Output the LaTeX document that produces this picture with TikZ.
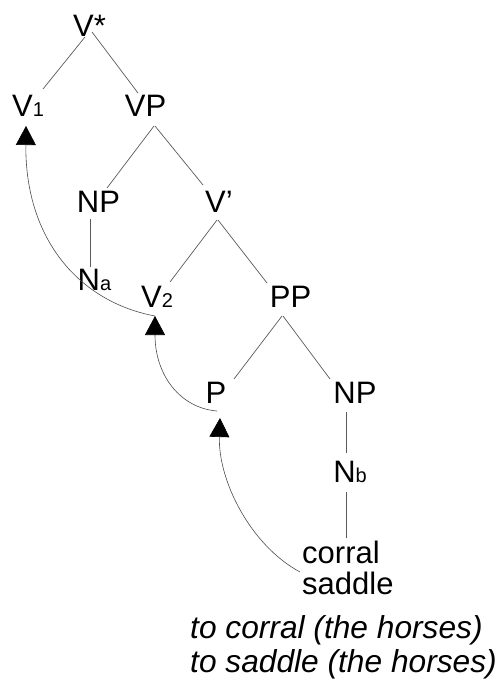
\documentclass[tikz,border=0pt]{standalone}
\usepackage{fontspec}
\setmainfont{Liberation Sans}
\usetikzlibrary{arrows.meta}
\newcommand{\sbs}[1]{{\fontsize{20}{20}\selectfont #1}}
\begin{document}
\begin{tikzpicture}[x=1pt,y=-1pt,
  lab/.style={inner sep=0pt, anchor=base, font=\fontsize{31}{36}\selectfont},
  word/.style={inner sep=0pt, anchor=base west, font=\fontsize{31}{36}\selectfont},
  ital/.style={inner sep=0pt, anchor=base west, font=\fontsize{31.7}{36}\selectfont\itshape},
  edge/.style={draw=black!65, line width=0.7pt},
  mv/.style={draw=black!70, line width=0.6pt, -{Triangle[length=19pt,width=20pt,color=black]}}]
\useasboundingbox (0,0) rectangle (499,679);

% tree labels
\node[lab] (Vstar) at (89.5,37) {V*};
\node[lab] (V1) at (28,117) {V\sbs{1}};
\node[lab] (VP) at (145.5,117) {VP};
\node[lab] (NPa) at (98.5,212) {NP};
\node[lab] (Vbar) at (219,212) {V’};
\node[lab] (Na) at (94.5,290) {N\sbs{a}};
\node[lab] (V2) at (157,307) {V\sbs{2}};
\node[lab] (PP) at (290.5,307) {PP};
\node[lab] (P) at (216,403) {P};
\node[lab] (NPb) at (355,403) {NP};
\node[lab] (Nb) at (350,482) {N\sbs{b}};
\node[word] (corral) at (302,563) {corral};
\node[word] (saddle) at (302,594) {saddle};
\node[ital] (gloss1) at (190,638) {to corral (the horses)};
\node[ital] (gloss2) at (190,672) {to saddle (the horses)};

% tree edges
\draw[edge] ([shift={(-4.5,0)}]Vstar.base) -- ([shift={(15,-28)}]V1.base);
\draw[edge] ([shift={(2.5,-5)}]Vstar.base) -- ([shift={(-7.5,-24)}]VP.base);
\draw[edge] ([shift={(8.5,9)}]VP.base) -- ([shift={(8.5,-24)}]NPa.base);
\draw[edge] ([shift={(9.5,9)}]VP.base) -- ([shift={(-16,-27)}]Vbar.base);
\draw[edge] ([shift={(-8.5,7)}]NPa.base) -- ([shift={(-4.5,-23)}]Na.base);
\draw[edge] ([shift={(-2,8)}]Vbar.base) -- ([shift={(13,-25)}]V2.base);
\draw[edge] ([shift={(-1,8)}]Vbar.base) -- ([shift={(-23.5,-24)}]PP.base);
\draw[edge] ([shift={(-8.5,9)}]PP.base) -- ([shift={(18,-24)}]P.base);
\draw[edge] ([shift={(-7.5,9)}]PP.base) -- ([shift={(-25,-24)}]NPb.base);
\draw[edge] ([shift={(-9,9)}]NPb.base) -- ([shift={(-4,-29)}]Nb.base);
\draw[edge] ([shift={(-4,10)}]Nb.base) -- ([shift={(44,-25)}]corral.base west);

% movement arrows
\coordinate (v1tip) at (26,126);
\coordinate (v2tip) at (155,316);
\coordinate (ptip) at (220,418);
\coordinate (pout) at (217,411);
\coordinate (sout) at ([shift={(-2,-22)}]saddle.base west);
\draw[mv] (v2tip) .. controls (80,302) and (25,240) .. (v1tip);
\draw[mv] (pout) .. controls (180,408) and (155,375) .. (v2tip);
\draw[mv] (sout) .. controls (250,545) and (218,480) .. (ptip);
\end{tikzpicture}
\end{document}
